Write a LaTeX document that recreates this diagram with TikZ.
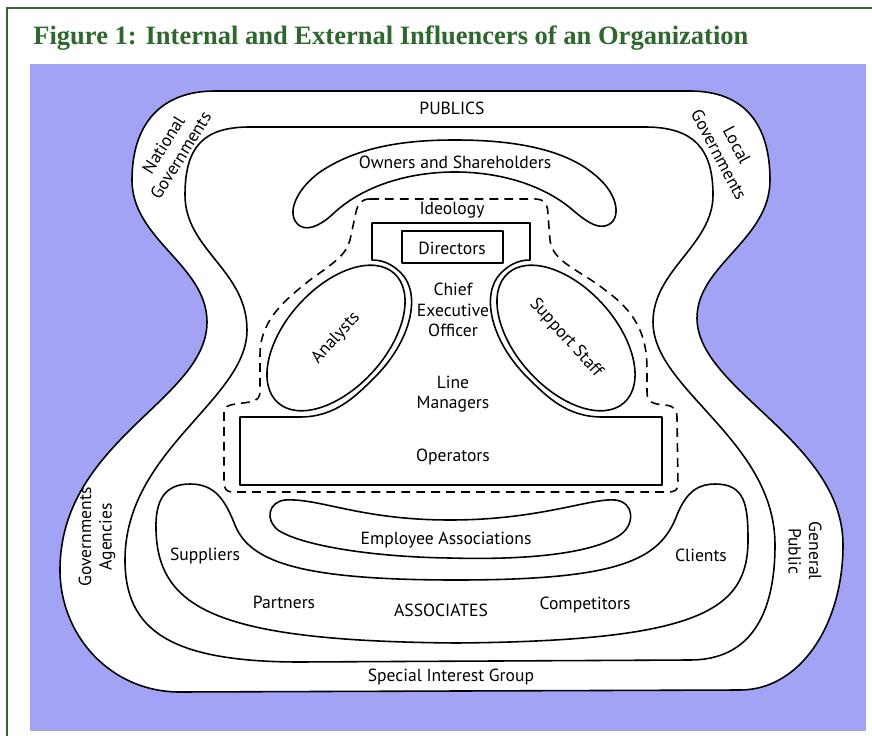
\documentclass[tikz,border=0pt]{standalone}
\usepackage{fontspec}
\setmainfont{Liberation Serif}
\newfontfamily\labelfont{PT Sans}
\usetikzlibrary{shapes.geometric}

\definecolor{titlegreen}{RGB}{46,104,46}
\definecolor{framegreen}{RGB}{52,100,52}
\definecolor{backblue}{RGB}{163,163,245}

\begin{document}
\begin{tikzpicture}[
        x=0.02cm, y=-0.02cm,
        blob/.style={draw=black, line width=0.9pt, fill=white, line join=round},
        ideologyline/.style={draw=black, line width=0.9pt, dash pattern=on 5pt off 3.5pt},
        lbl/.style={font=\labelfont\fontsize{10}{11.6}\selectfont, align=center, inner sep=0pt},
        oval/.style={ellipse, draw=black, line width=0.9pt, fill=white, minimum width=3.48cm, minimum height=2cm, inner sep=0pt, font=\labelfont\fontsize{10}{11}\selectfont}
    ]
    \useasboundingbox (0,0) rectangle (872,736);
    % frame and background
    \draw[framegreen, line width=1.2pt] (7,736) -- (7,8) -- (872,8);
    \fill[backblue] (30,64) rectangle (866,731);
    \node[anchor=base west, inner sep=0pt, text=titlegreen, font=\fontsize{15.1}{17}\selectfont\bfseries] (title) at (33,45) {Figure 1: Internal and External Influencers of an Organization};

    % publics (outer ring)
    \draw[blob] (215,91) -- (690,91)
        .. controls (745,91) and (770,125) .. (770,180)
        .. controls (770,240) and (697,265) .. (697,318)
        .. controls (697,390) and (843,440) .. (843,545)
        .. controls (843,625) and (800,690) .. (740,690)
        -- (180,692)
        .. controls (110,692) and (60,635) .. (60,570)
        .. controls (60,440) and (207,400) .. (207,322)
        .. controls (207,265) and (132,240) .. (132,180)
        .. controls (132,125) and (160,91) .. (215,91) -- cycle;
    % second ring
    \draw[blob] (250,127) -- (645,127)
        .. controls (695,127) and (713,150) .. (713,195)
        .. controls (713,245) and (653,270) .. (653,322)
        .. controls (653,390) and (775,440) .. (775,545)
        .. controls (775,615) and (750,660) .. (690,660)
        -- (300,662)
        .. controls (170,662) and (125,630) .. (125,560)
        .. controls (125,450) and (247,400) .. (247,330)
        .. controls (247,270) and (185,250) .. (185,195)
        .. controls (185,145) and (205,127) .. (250,127) -- cycle;

    % owners and shareholders
    \draw[blob] (300,226)
        .. controls (285,216) and (295,190) .. (320,172)
        .. controls (360,145) and (410,140) .. (455,140)
        .. controls (500,140) and (560,145) .. (595,175)
        .. controls (620,195) and (622,222) .. (605,226)
        .. controls (595,228) and (585,220) .. (575,212)
        .. controls (545,185) and (500,172) .. (455,172)
        .. controls (410,172) and (365,185) .. (335,212)
        .. controls (325,222) and (310,232) .. (300,226) -- cycle;

    % associates
    \draw[blob] (190,484)
        .. controls (215,484) and (225,500) .. (235,525)
        .. controls (250,562) and (300,580) .. (456,580)
        .. controls (620,580) and (660,560) .. (677,515)
        .. controls (687,490) and (700,484) .. (715,484)
        .. controls (745,484) and (748,505) .. (748,540)
        .. controls (748,610) and (700,641) .. (456,643)
        .. controls (220,641) and (158,610) .. (156,530)
        .. controls (155,500) and (165,484) .. (190,484) -- cycle;
    % employee associations
    \draw[blob] (285,500)
        .. controls (320,498) and (360,520) .. (450,520)
        .. controls (540,520) and (590,498) .. (615,500)
        .. controls (635,502) and (635,525) .. (620,535)
        .. controls (590,555) and (520,560) .. (450,558)
        .. controls (370,557) and (300,545) .. (278,530)
        .. controls (265,520) and (268,502) .. (285,500) -- cycle;

    % ideology
    \draw[ideologyline] (370,199) -- (535,199)
        .. controls (545,199) and (548,205) .. (548,215)
        -- (550,240)
        .. controls (552,262) and (580,270) .. (605,290)
        .. controls (640,315) and (647,340) .. (647,370)
        -- (647,392)
        .. controls (647,402) and (652,404) .. (665,405)
        .. controls (675,406) and (677,410) .. (677,418)
        -- (678,484)
        .. controls (678,490) and (675,492) .. (668,492)
        -- (232,492)
        .. controls (226,492) and (224,488) .. (224,482)
        -- (224,412)
        .. controls (224,407) and (228,405) .. (236,404)
        -- (250,402)
        .. controls (258,400) and (260,398) .. (260,390)
        -- (260,355)
        .. controls (260,320) and (285,300) .. (310,280)
        .. controls (335,262) and (346,255) .. (350,240)
        -- (356,212)
        .. controls (358,203) and (362,199) .. (370,199) -- cycle;

    % operating core, middle line and apex
    \draw[blob] (240,485) -- (240,417) -- (300,417)
        .. controls (335,417) and (355,397) .. (375,377)
        .. controls (411,341) and (422,294) .. (401,273)
        .. controls (394,266) and (385,260) .. (372,260)
        -- (372,223) -- (530,223) -- (530,260)
        .. controls (517,260) and (508,266) .. (501,273)
        .. controls (480,294) and (491,341) .. (527,377)
        .. controls (547,397) and (567,417) .. (602,417)
        -- (662,417) -- (662,485) -- cycle;
    \draw[blob] (402,231) rectangle (503,263);

    \node[oval, rotate=48] (analysts) at (336,338) {Analysts};
    \node[oval, rotate=-48] (support) at (566,338) {Support Staff};

    % labels
    \node[lbl] (publics) at (452,108) {PUBLICS};
    \node[lbl] (owners) at (455,162) {Owners and Shareholders};
    \node[lbl] (ideology) at (452,210) {Ideology};
    \node[lbl] (directors) at (452,248) {Directors};
    \node[lbl] (ceo) at (453,310) {Chief\\Executive\\Officer};
    \node[lbl] (managers) at (453,394) {Line\\Managers};
    \node[lbl] (operators) at (453,457) {Operators};
    \node[lbl] (employees) at (446,540) {Employee Associations};
    \node[lbl] (suppliers) at (205,556) {Suppliers};
    \node[lbl] (clients) at (701,555) {Clients};
    \node[lbl] (partners) at (284,602) {Partners};
    \node[lbl] (associates) at (441,610) {ASSOCIATES};
    \node[lbl] (competitors) at (585,605) {Competitors};
    \node[lbl] (interest) at (451,677) {Special Interest Group};
    \node[lbl, rotate=58] (national) at (172,150) {National\\Governments};
    \node[lbl, rotate=-62] (local) at (728,150) {Local\\Governments};
    \node[lbl, rotate=90] (agencies) at (97,537) {Governments\\Agencies};
    \node[lbl, rotate=-90] (general) at (805,551) {General\\Public};
\end{tikzpicture}
\end{document}
